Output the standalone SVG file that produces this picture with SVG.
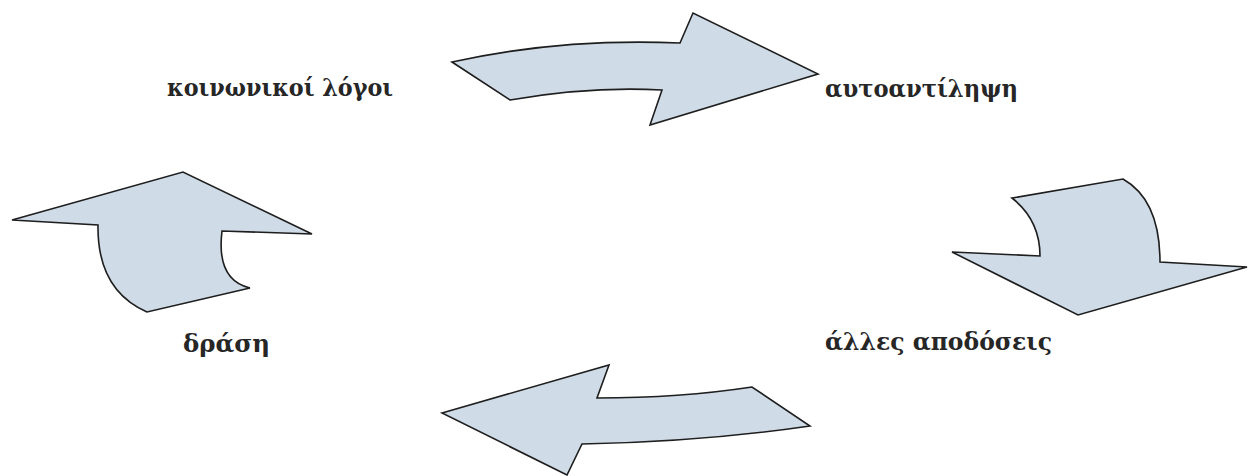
<svg xmlns="http://www.w3.org/2000/svg" width="1251" height="476" viewBox="0 0 1251 476">
<style>
.arr{fill:#cfdbe6;stroke:#1e1e1e;stroke-width:1.6;stroke-linejoin:miter}
.lbl{font-family:"DejaVu Serif","Liberation Serif",serif;font-weight:bold;font-size:25px;fill:#262626}
</style>
<rect width="1251" height="476" fill="#ffffff"/>
<g id="connectors">
<path id="arrow-top" class="arr" d="M452,62 Q560,38 680,43 L693,13 L818,74 L650,125 L662,90 Q590,86 510,100 Z"/>
<path id="arrow-right" class="arr" d="M1012,198 L1123,179 Q1160,200 1160,262 L1247,267 L1078,315 L952,252 L1040,256 Q1040,220 1012,198 Z"/>
<path id="arrow-bottom" class="arr" d="M442,413 L609,365 L597,398 Q680,398 752,387 L810,426 Q700,442 582,444 L567,475 Z"/>
<path id="arrow-left" class="arr" d="M12,220 L183,172 L312,234 L222,231 Q216,280 250,288 L147,312 Q97,290 98,225 Z"/>
</g>
<g id="node-social"><text class="lbl" x="167" y="96" textLength="226" lengthAdjust="spacingAndGlyphs">κοινωνικοί λόγοι</text></g>
<g id="node-self"><text class="lbl" x="825" y="97" textLength="193" lengthAdjust="spacingAndGlyphs">αυτοαντίληψη</text></g>
<g id="node-other"><text class="lbl" x="825" y="350" textLength="227" lengthAdjust="spacingAndGlyphs">άλλες αποδόσεις</text></g>
<g id="node-action"><text class="lbl" x="183" y="352" textLength="87" lengthAdjust="spacingAndGlyphs">δράση</text></g>
</svg>
